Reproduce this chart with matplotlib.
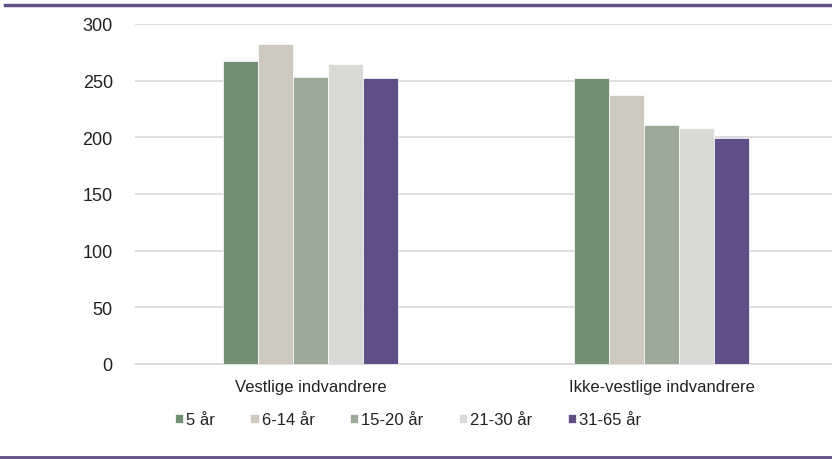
import numpy as np
import matplotlib.pyplot as plt
from matplotlib.lines import Line2D

# DATOS
grupos = ["Vestlige indvandrere", "Ikke-vestlige indvandrere"]
aldre = ["5 år", "6-14 år", "15-20 år", "21-30 år", "31-65 år"]
v_5 = [267, 252]
v_6_14 = [282, 237]
v_15_20 = [253, 211]
v_21_30 = [265, 208]
v_31_65 = [252, 199]
serier = [v_5, v_6_14, v_15_20, v_21_30, v_31_65]
farver = ["#738f74", "#cdc9bd", "#9aaa96", "#d8dbd5", "#604e87"]
y_ticks = [0, 50, 100, 150, 200, 250, 300]

plt.rcParams['font.family'] = ['Liberation Sans', 'DejaVu Sans']

fig = plt.figure(figsize=(8.32, 4.6), dpi=100)
ax = fig.add_axes([135 / 832, (460 - 365) / 460, 702 / 832, 340 / 460])

# BARRAS
x = np.arange(len(grupos))
ancho = 0.1
for i, (valores, farve, navn) in enumerate(zip(serier, farver, aldre)):
    ax.bar(x + (i - 2) * ancho, valores, ancho, color=farve, label=navn,
           edgecolor="white", linewidth=0.5, zorder=3)

ax.set_xlim(-0.5, 1.5)
ax.set_ylim(0, 300)
ax.set_yticks(y_ticks)
ax.set_xticks(x)
ax.set_xticklabels(grupos)
ax.grid(axis="y", color="#d9d9d9", linewidth=1.2, zorder=0)
for s in ["top", "right", "left"]:
    ax.spines[s].set_visible(False)
ax.spines["bottom"].set_color("#d9d9d9")
ax.spines["bottom"].set_linewidth(1.2)
ax.tick_params(axis="both", length=0, colors="#222222")
ax.tick_params(axis="y", pad=16, labelsize=13)
ax.tick_params(axis="x", pad=11, labelsize=12)

# LEYENDA
leg = ax.legend(loc="center", bbox_to_anchor=(408 / 832, (460 - 421) / 460),
                bbox_transform=fig.transFigure, ncol=5, frameon=False,
                fontsize=12, handlelength=0.5, handleheight=0.5,
                handletextpad=0.2, columnspacing=2.1)
for t in leg.get_texts():
    t.set_color("#222222")

# LINEAS MORADAS
fig.add_artist(Line2D([5 / 832, 1], [1 - 6 / 460, 1 - 6 / 460],
                      color="#604e87", linewidth=2.5, transform=fig.transFigure))
fig.add_artist(Line2D([0, 1], [1 - 458 / 460, 1 - 458 / 460],
                      color="#604e87", linewidth=2.0, transform=fig.transFigure))

fig.savefig("out.png", dpi=100)
